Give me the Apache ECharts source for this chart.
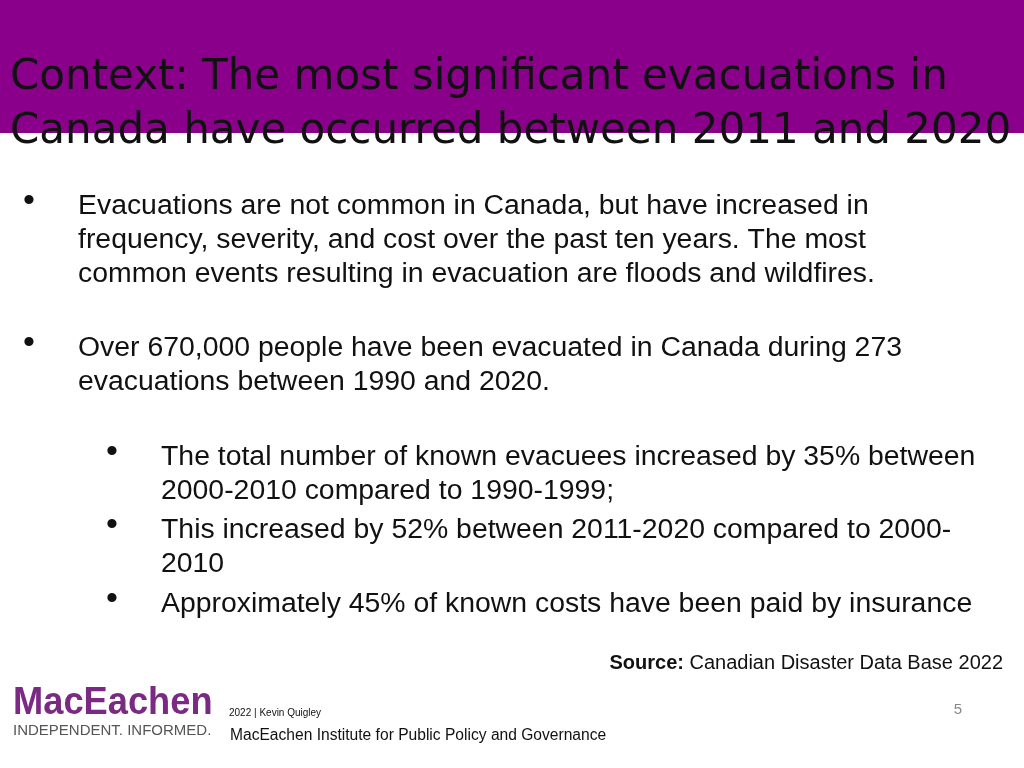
<!DOCTYPE html>
<html><head><meta charset="utf-8">
<script src="https://cdn.jsdelivr.net/npm/echarts@6/dist/echarts.min.js"></script>
<style>html,body{margin:0;padding:0;background:#fff}#c{width:1024px;height:768px}</style>
</head><body><div id="c"></div>
<script>
const titleLines = ["Context: The most significant evacuations in", "Canada have occurred between 2011 and 2020"];
const bulletLines = [
  ["Evacuations are not common in Canada, but have increased in", "frequency, severity, and cost over the past ten years. The most", "common events resulting in evacuation are floods and wildfires."],
  ["Over 670,000 people have been evacuated in Canada during 273", "evacuations between 1990 and 2020."]
];
const subBulletLines = [
  ["The total number of known evacuees increased by 35% between", "2000-2010 compared to 1990-1999;"],
  ["This increased by 52% between 2011-2020 compared to 2000-", "2010"],
  ["Approximately 45% of known costs have been paid by insurance"]
];
const sourceLabel = "Source:";
const sourceText = " Canadian Disaster Data Base 2022";
const footerTexts = ["2022 | Kevin Quigley", "MacEachen Institute for Public Policy and Governance", "5"];
const logoTexts = ["MacEachen", "INDEPENDENT. INFORMED."];

const g = [];
g.push({type:'rect', shape:{x:0,y:0,width:1024,height:133}, style:{fill:'#8b008b'}});
const titleY = [78, 132];
titleLines.forEach((t,i)=>g.push({type:'text', x:10, y:titleY[i], style:{text:t, font:'42px "DejaVu Sans"', fill:'#111', textVerticalAlign:'middle'}}));
const bodyFont = '28.4px "Liberation Sans"';
const bulletFont = '34px "Liberation Sans"';
const bY = [[206,240,274],[348,382]];
bulletLines.forEach((lines,i)=>{
  g.push({type:'text', x:23, y:bY[i][0]-4, style:{text:'•', font:bulletFont, fill:'#111', textVerticalAlign:'middle'}});
  lines.forEach((t,j)=>g.push({type:'text', x:78, y:bY[i][j], style:{text:t, font:bodyFont, fill:'#111', textVerticalAlign:'middle'}}));
});
const sY = [[457,491],[530,564],[604]];
subBulletLines.forEach((lines,i)=>{
  g.push({type:'text', x:106, y:sY[i][0]-4, style:{text:'•', font:bulletFont, fill:'#111', textVerticalAlign:'middle'}});
  lines.forEach((t,j)=>g.push({type:'text', x:161, y:sY[i][j], style:{text:t, font:bodyFont, fill:'#111', textVerticalAlign:'middle'}}));
});
g.push({type:'text', x:1003, y:663, style:{text:'{b|'+sourceLabel+'}'+sourceText, font:'20px "Liberation Sans"', fill:'#111', align:'right', verticalAlign:'middle', rich:{b:{fontWeight:'bold', fontSize:20, fontFamily:'Liberation Sans', fill:'#111'}}}});
g.push({type:'text', x:13, y:703, scaleX:0.93, style:{text:logoTexts[0], font:'bold 39px "Liberation Sans"', fill:'#7b2a83', textVerticalAlign:'middle'}});
g.push({type:'text', x:13, y:731, style:{text:logoTexts[1], font:'15px "Liberation Sans"', fill:'#555', textVerticalAlign:'middle'}});
g.push({type:'text', x:229, y:713, style:{text:footerTexts[0], font:'10px "Liberation Sans"', fill:'#111', textVerticalAlign:'middle'}});
g.push({type:'text', x:230, y:736, style:{text:footerTexts[1], font:'15.6px "Liberation Sans"', fill:'#111', textVerticalAlign:'middle'}});
g.push({type:'text', x:958, y:710, style:{text:footerTexts[2], font:'15px "Liberation Sans"', fill:'#888', align:'center', textVerticalAlign:'middle'}});
const chart = echarts.init(document.getElementById('c'));
chart.setOption({animation:false, graphic:{elements:g}});
</script></body></html>
